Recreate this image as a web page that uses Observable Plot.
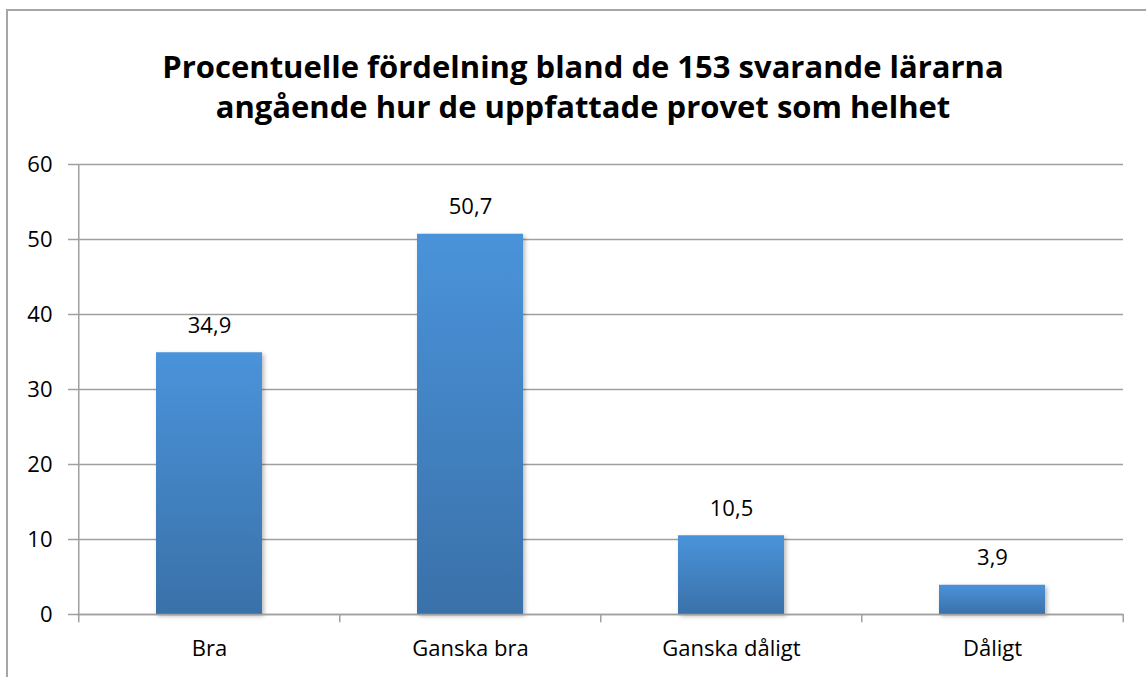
<!DOCTYPE html>
<html>
<head>
<meta charset="utf-8">
<script src="https://cdn.jsdelivr.net/npm/d3@7"></script>
<script src="https://cdn.jsdelivr.net/npm/@observablehq/plot@0.6"></script>
<style>
  html, body { margin: 0; padding: 0; background: #fff; overflow: hidden; }
  #wrap { position: relative; width: 1146px; height: 677px; overflow: hidden; }
  #frame { position: absolute; left: 6px; top: 9px; width: 1300px; height: 900px; border-left: 2px solid #a6a6a6; border-top: 2px solid #a6a6a6; box-sizing: border-box; }
  #title { position: absolute; left: 0; top: 46px; width: 1166px; text-align: center;
    font-family: "Open Sans", sans-serif; font-weight: 700; font-size: 31px; line-height: 40px; color: #000; }
  #chart { position: absolute; left: 0; top: 0; }
  #chart svg { font-family: "Open Sans", sans-serif; }
  g[aria-label="bar"] rect { filter: drop-shadow(2px 2px 2px rgba(0,0,0,0.28)); }
</style>
</head>
<body>
<div id="wrap">
  <div id="frame"></div>
  <div id="chart"></div>
  <div id="title">Procentuelle fördelning bland de 153 svarande lärarna<br>angående hur de uppfattade provet som helhet</div>
</div>
<script>
const categories = ["Bra", "Ganska bra", "Ganska dåligt", "Dåligt"];
const values = [34.9, 50.7, 10.5, 3.9];
const yTicks = [0, 10, 20, 30, 40, 50, 60];

const data = categories.map((c, i) => ({category: c, value: values[i]}));
const fmt = v => String(v.toFixed(1)).replace(".", ",");

const W = 1146, H = 677;
const mL = 77, mR = 23, mT = 164, mB = 63;
const step = (W - mL - mR) / categories.length;

const defs = () => {
  const ns = "http://www.w3.org/2000/svg";
  const d = document.createElementNS(ns, "defs");
  const g = document.createElementNS(ns, "linearGradient");
  g.setAttribute("id", "barGrad");
  g.setAttribute("x1", "0"); g.setAttribute("y1", "0");
  g.setAttribute("x2", "0"); g.setAttribute("y2", "1");
  [["0%", "#4a93da"], ["100%", "#3a71a9"]].forEach(([o, c]) => {
    const s = document.createElementNS(ns, "stop");
    s.setAttribute("offset", o); s.setAttribute("stop-color", c);
    g.appendChild(s);
  });
  d.appendChild(g);
  return d;
};

const chart = Plot.plot({
  width: W, height: H,
  marginLeft: mL, marginRight: mR, marginTop: mT, marginBottom: mB,
  style: {fontSize: "22px", color: "#000", background: "transparent"},
  x: {domain: categories, paddingInner: 0.595, paddingOuter: 0.2975, label: null},
  y: {domain: [0, 60], label: null},
  marks: [
    defs,
    Plot.ruleY(yTicks, {stroke: "#a0a0a0", strokeWidth: 1.5}),
    Plot.ruleX([categories[0]], {dx: -step / 2, y1: 60, y2: 0, stroke: "#a0a0a0", strokeWidth: 1.5}),
    Plot.ruleX(categories, {dx: -step / 2, y1: 0, y2: -1.1, stroke: "#a0a0a0", strokeWidth: 1.5, clip: false}),
    Plot.ruleX([categories[categories.length - 1]], {dx: step / 2, y1: 0, y2: -1.1, stroke: "#a0a0a0", strokeWidth: 1.5}),
    Plot.axisY(yTicks, {tickSize: 9, tickPadding: 16, stroke: "#a0a0a0", strokeWidth: 1.5, fill: "#000", label: null, fontSize: 22}),
    Plot.axisX({tickSize: 0, tickPadding: 26, label: null, fill: "#000", fontSize: 22}),
    Plot.barY(data, {x: "category", y: "value", fill: "url(#barGrad)"}),
    Plot.ruleY([0], {stroke: "#a0a0a0", strokeWidth: 1.5}),
    Plot.text(data, {x: "category", y: "value", text: d => fmt(d.value), dy: -27, lineAnchor: "middle", fill: "#000", fontSize: 22})
  ]
});
document.getElementById("chart").appendChild(chart);
</script>
</body>
</html>
